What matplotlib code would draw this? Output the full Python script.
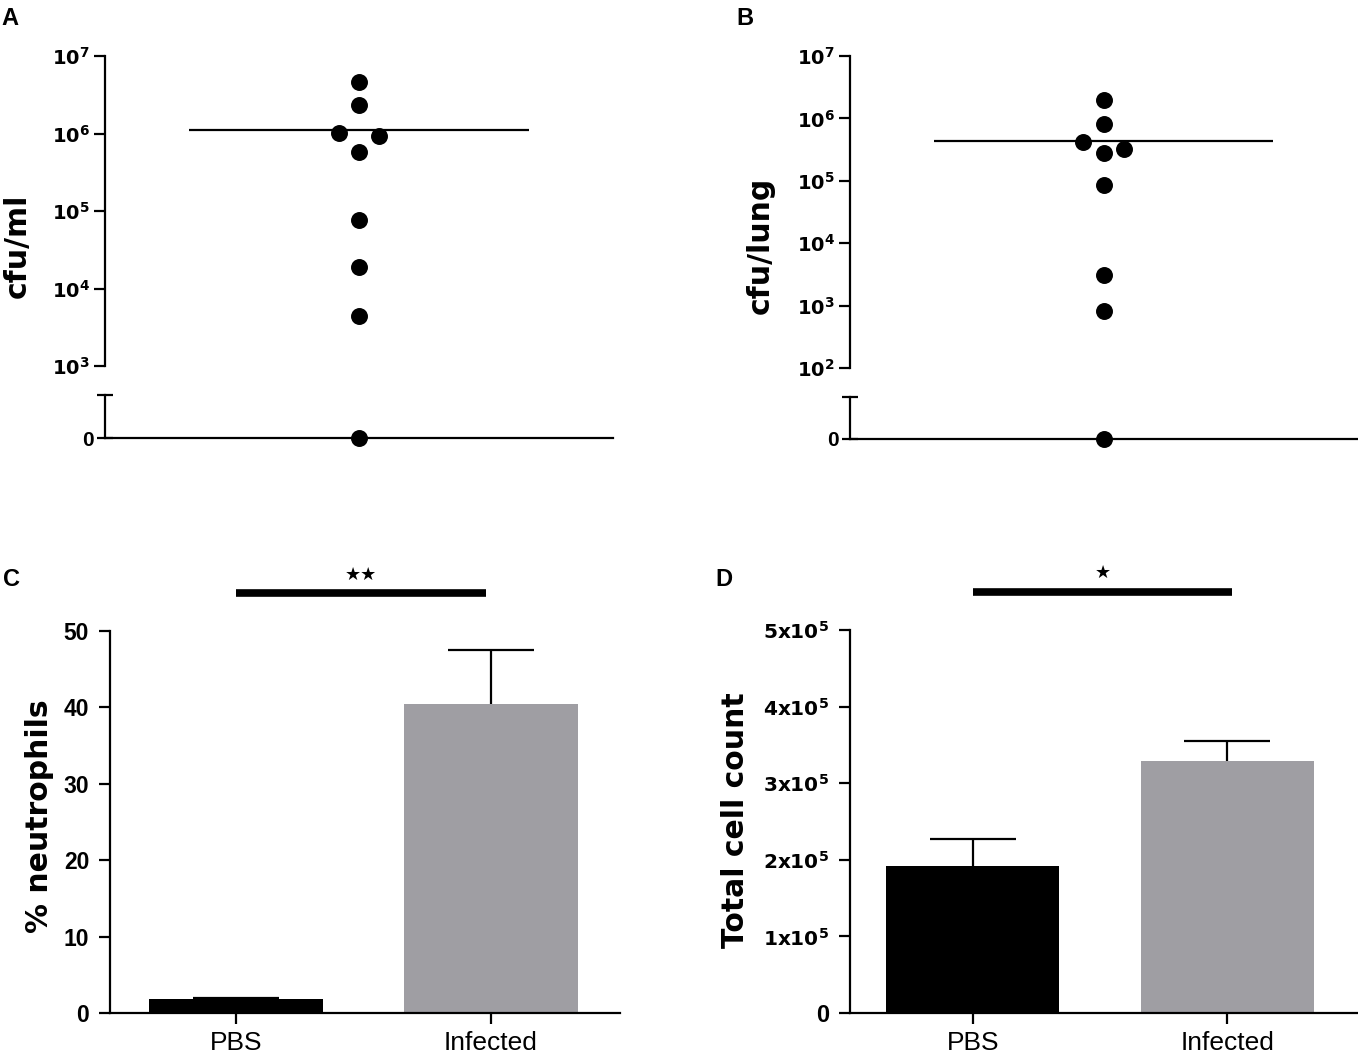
"""Bacterial load and lung inflammation, four panels."""
import matplotlib

matplotlib.use("Agg")
import matplotlib.pyplot as plt
from matplotlib.ticker import NullLocator

plt.rcParams["font.family"] = ["Liberation Sans", "DejaVu Sans"]
plt.rcParams["mathtext.fontset"] = "dejavusans"

# Panel A: cfu/ml per animal, line = median
a_cfu = [4.6e6, 2.3e6, 1.02e6, 9.2e5, 5.7e5, 7.7e4, 1.9e4, 4.4e3, 0]
a_median = 1.1e6
a_ticks = [1e3, 1e4, 1e5, 1e6, 1e7]
a_ticklabels = [r"$\mathbf{10^{3}}$", r"$\mathbf{10^{4}}$", r"$\mathbf{10^{5}}$",
                r"$\mathbf{10^{6}}$", r"$\mathbf{10^{7}}$"]

# Panel B: cfu/lung per animal, line = median
b_cfu = [1.97e6, 8.0e5, 4.2e5, 2.8e5, 3.2e5, 8.5e4, 3.1e3, 8.1e2, 0]
b_median = 4.4e5
b_ticks = [1e2, 1e3, 1e4, 1e5, 1e6, 1e7]
b_ticklabels = [r"$\mathbf{10^{2}}$", r"$\mathbf{10^{3}}$", r"$\mathbf{10^{4}}$",
                r"$\mathbf{10^{5}}$", r"$\mathbf{10^{6}}$", r"$\mathbf{10^{7}}$"]

# Panels C and D: group means with SEM
groups = ["PBS", "Infected"]
neutrophils = [1.8, 40.5]
neutrophils_sem = [0.2, 7.0]
cells = [1.92e5, 3.29e5]
cells_sem = [0.35e5, 0.26e5]
c_ticks = [0, 10, 20, 30, 40, 50]
d_ticks = [0, 1e5, 2e5, 3e5, 4e5, 5e5]
d_ticklabels = ["0", r"$\mathbf{1x10^{5}}$", r"$\mathbf{2x10^{5}}$",
                r"$\mathbf{3x10^{5}}$", r"$\mathbf{4x10^{5}}$", r"$\mathbf{5x10^{5}}$"]
c_stars = "**"
d_stars = "*"

# horizontal scatter of the dots (layout only)
a_jitter = [0, 0, -0.08, 0.08, 0, 0, 0, 0, 0]
b_jitter = [0, 0, -0.08, 0, 0.08, 0, 0, 0, 0]

bar_colors = ["black", "#9f9ea3"]
LW = 1.6
W, H = 1358, 1055


def rect(left, top, right, bottom):
    return [left / W, 1 - bottom / H, (right - left) / W, (bottom - top) / H]


def dot_panel(fig, main_box, low_box, vals, jitter, median, ticks, labels):
    ax = fig.add_axes(rect(*main_box))
    low = fig.add_axes(rect(*low_box))
    for v, o in zip(vals, jitter):
        if v > 0:
            ax.scatter(1 + o, v, s=125, color="black", zorder=3)
        else:
            low.scatter(1 + o, 0, s=125, color="black", zorder=4, clip_on=False)
    ax.hlines(median, 0.33, 1.67, color="black", lw=LW)

    ax.set_yscale("log")
    ax.set_ylim(ticks[0], ticks[-1])
    ax.set_yticks(ticks, labels=labels)
    ax.yaxis.set_minor_locator(NullLocator())
    ax.set_xlim(0, 2)
    ax.set_xticks([])
    for s in ["top", "right", "bottom"]:
        ax.spines[s].set_visible(False)
    ax.spines["left"].set_linewidth(LW)
    ax.tick_params(axis="y", length=8, width=LW, labelsize=14, pad=3)

    low.set_xlim(0, 2)
    low.set_ylim(0, 1)
    low.set_xticks([])
    low.set_yticks([0, 1], labels=["0", ""])
    for s in ["top", "right"]:
        low.spines[s].set_visible(False)
    low.spines["left"].set_linewidth(LW)
    low.spines["bottom"].set_linewidth(LW)
    low.tick_params(axis="y", length=12, width=LW, direction="inout",
                    labelsize=15, pad=2)
    for t in low.get_yticklabels():
        t.set_fontweight("bold")
    return ax


def bar_panel(fig, box, vals, sem, ticks, xlim):
    ax = fig.add_axes(rect(*box))
    x = list(range(len(vals)))
    ax.bar(x, vals, width=0.68, color=bar_colors, zorder=2)
    eb = ax.errorbar(x, vals, yerr=[[0] * len(vals), sem], fmt="none",
                     capsize=31, elinewidth=LW, capthick=LW, ecolor="black",
                     zorder=3)
    eb[1][0].remove()  # no cap on the bar top
    ax.set_xlim(*xlim)
    ax.set_ylim(ticks[0], ticks[-1])
    ax.set_xticks(x, labels=groups)
    for s in ["top", "right"]:
        ax.spines[s].set_visible(False)
    ax.spines["left"].set_linewidth(LW)
    ax.spines["bottom"].set_linewidth(LW)
    ax.tick_params(axis="x", length=8, width=LW, labelsize=19, pad=5)
    ax.tick_params(axis="y", length=8, width=LW, pad=7)
    return ax


def sig_bar(ax, x0, x1, y, ystar, stars):
    ax.plot([x0, x1], [y, y], color="black", lw=5.5, clip_on=False,
            solid_capstyle="butt")
    ax.text((x0 + x1) / 2, ystar, "\u2605" * len(stars),
            ha="center", va="center", fontsize=13, family="DejaVu Sans",
            clip_on=False)


fig = plt.figure(figsize=(W / 100, H / 100), dpi=100)

# A
dot_panel(fig, (105, 56, 613, 366), (105, 395, 613, 438),
          a_cfu, a_jitter, a_median, a_ticks, a_ticklabels)
# B
dot_panel(fig, (850, 56, 1357, 368), (850, 397, 1357, 439),
          b_cfu, b_jitter, b_median, b_ticks, b_ticklabels)

# C
axc = bar_panel(fig, (110, 631, 620, 1013), neutrophils, neutrophils_sem,
                c_ticks, (-0.494, 1.506))
axc.set_yticks(c_ticks)
axc.tick_params(axis="y", labelsize=16.5)
for t in axc.get_yticklabels():
    t.set_fontweight("bold")
sig_bar(axc, 0, 0.98, 55, 57.4, c_stars)

# D
axd = bar_panel(fig, (850, 630, 1357, 1013), cells, cells_sem,
                d_ticks, (-0.482, 1.51))
axd.set_yticks(d_ticks, labels=d_ticklabels)
axd.tick_params(axis="y", labelsize=14.5)
axd.get_yticklabels()[0].set_fontsize(17)
axd.get_yticklabels()[0].set_fontweight("bold")
sig_bar(axd, 0, 1.02, 5.5e5, 5.74e5, d_stars)

# axis titles
ylab = dict(rotation=90, ha="center", va="center", fontsize=21.5,
            fontweight="bold", family="DejaVu Sans")
fig.text(17 / W, 1 - 246 / H, "cfu/ml", **ylab)
fig.text(760 / W, 1 - 245 / H, "cfu/lung", **ylab)
fig.text(40 / W, 1 - 816 / H, "% neutrophils", **ylab)
fig.text(735 / W, 1 - 820 / H, "Total cell count", **ylab)

# panel letters
letter = dict(ha="left", va="top", fontsize=17, fontweight="bold")
fig.text(1 / W, 1 - 7 / H, "A", **letter)
fig.text(736 / W, 1 - 7 / H, "B", **letter)
fig.text(3 / W, 1 - 568 / H, "C", **letter)
fig.text(715 / W, 1 - 568 / H, "D", **letter)

fig.savefig("out.png", dpi=100)
